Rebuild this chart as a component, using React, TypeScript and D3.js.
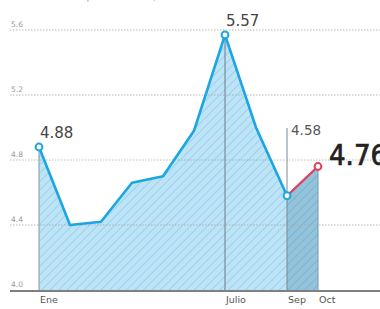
import * as d3 from 'd3';

// datos mensuales (%)
const months = ['Ene', 'Feb', 'Mar', 'Abr', 'May', 'Jun', 'Jul', 'Ago', 'Sep', 'Oct'];
const values = [4.88, 4.4, 4.42, 4.66, 4.7, 4.98, 5.57, 5.0, 4.58, 4.76];
const yTicks = [4.0, 4.4, 4.8, 5.2, 5.6];
const shownMonths = ['Ene', 'Julio', 'Sep', 'Oct'];
const shownIdx = [0, 6, 8, 9];
const callouts = [
  { i: 0, text: '4.88' },
  { i: 6, text: '5.57' },
];

const W = 380;
const H = 309;

const App = () => {
  const x = d3.scaleLinear().domain([0, months.length - 1]).range([39, 318]);
  const y = d3.scaleLinear().domain([4.0, 5.6]).range([290, 30]);

  const pts = values.map((v, i) => ({ i, v }));
  const line = d3
    .line<{ i: number; v: number }>()
    .x((d) => x(d.i))
    .y((d) => y(d.v));
  const area = d3
    .area<{ i: number; v: number }>()
    .x((d) => x(d.i))
    .y0(y(4.0))
    .y1((d) => y(d.v));

  const blueLine = pts.slice(0, 9);
  const redLine = pts.slice(8, 10);
  const mainArea = pts.slice(0, 9);
  const lastArea = pts.slice(8, 10);

  const sep = pts[8];
  const oct = pts[9];

  return (
    <svg width={W} height={H} style={{ position: 'absolute', left: 0, top: 0 }}>
      <defs>
        <pattern id="hatch" width={6} height={6} patternUnits="userSpaceOnUse" patternTransform="rotate(45)">
          <rect width={6} height={6} fill="#bde3f6" />
          <line x1={0} y1={0} x2={0} y2={6} stroke="#8cc7e5" strokeWidth={1.3} />
        </pattern>
        <pattern id="hatch2" width={6} height={6} patternUnits="userSpaceOnUse" patternTransform="rotate(45)">
          <rect width={6} height={6} fill="#92c3db" />
          <line x1={0} y1={0} x2={0} y2={6} stroke="#74a9c4" strokeWidth={1.3} />
        </pattern>
      </defs>
      <rect width={W} height={H} fill="#fff" />

      {/* título recortado */}
      <text x={12} y={0} fontSize={10} fill="#aaa" fontFamily="DejaVu Sans, sans-serif">
        Tasa de desempleo nacional, %
      </text>

      {/* áreas */}
      <path d={area(mainArea) as string} fill="url(#hatch)" />
      <path d={area(lastArea) as string} fill="url(#hatch2)" />

      {/* cuadrícula */}
      {yTicks.slice(1).map((t) => (
        <line
          key={t}
          x1={10}
          x2={W}
          y1={y(t)}
          y2={y(t)}
          stroke="#aaa"
          strokeWidth={1}
          strokeDasharray="1.5,1.5"
          opacity={0.8}
        />
      ))}
      {yTicks.map((t) => (
        <text
          key={'l' + t}
          x={11}
          y={y(t) - 3}
          fontSize={7.5}
          fill="#999"
          fontFamily="DejaVu Sans, sans-serif"
        >
          {t.toFixed(1)}
        </text>
      ))}

      {/* verticales */}
      <line x1={x(0)} x2={x(0)} y1={y(values[0])} y2={y(4)} stroke="#7f98a8" strokeWidth={1} />
      <line x1={x(6)} x2={x(6)} y1={y(values[6])} y2={y(4)} stroke="#6b7f8c" strokeWidth={1} />
      <line x1={x(8)} x2={x(8)} y1={128} y2={y(4)} stroke="#7a8a94" strokeWidth={1} />
      <line x1={x(9)} x2={x(9)} y1={y(oct.v)} y2={y(4)} stroke="#6f9ab2" strokeWidth={1} />

      {/* base */}
      <line x1={10} x2={W} y1={y(4) + 1} y2={y(4) + 1} stroke="#555" strokeWidth={1.5} />

      {/* líneas */}
      <path d={line(blueLine) as string} fill="none" stroke="#1aa6e0" strokeWidth={2.6} strokeLinejoin="round" />
      <path d={line(redLine) as string} fill="none" stroke="#e0405e" strokeWidth={2.4} />

      {[0, 6, 8].map((i) => (
        <circle key={i} cx={x(i)} cy={y(values[i])} r={3.4} fill="#fff" stroke="#1aa6e0" strokeWidth={2} />
      ))}
      <circle cx={x(oct.i)} cy={y(oct.v)} r={3.4} fill="#fff" stroke="#e0405e" strokeWidth={2} />

      {/* etiquetas de valores */}
      {callouts.map((c) => (
        <text
          key={c.text}
          x={x(c.i) + 1}
          y={y(values[c.i]) - 9}
          fontSize={15}
          fill="#444"
          fontFamily="DejaVu Sans, sans-serif"
        >
          {c.text}
        </text>
      ))}
      <text x={x(sep.i) + 4} y={135} fontSize={13.5} fill="#555" fontFamily="DejaVu Sans, sans-serif">
        {sep.v.toFixed(2)}
      </text>
      <text
        x={x(oct.i) + 11}
        y={y(oct.v) - 2}
        fontSize={29}
        fill="#222"
        stroke="#222"
        strokeWidth={0.7}
        fontFamily="DejaVu Sans Condensed, sans-serif"
      >
        {oct.v.toFixed(2)}
      </text>

      {/* meses */}
      {shownIdx.map((i, k) => (
        <text key={i} x={x(i) + 1} y={303} fontSize={9.5} fill="#555" fontFamily="DejaVu Sans, sans-serif">
          {shownMonths[k]}
        </text>
      ))}
    </svg>
  );
};

export default App;
